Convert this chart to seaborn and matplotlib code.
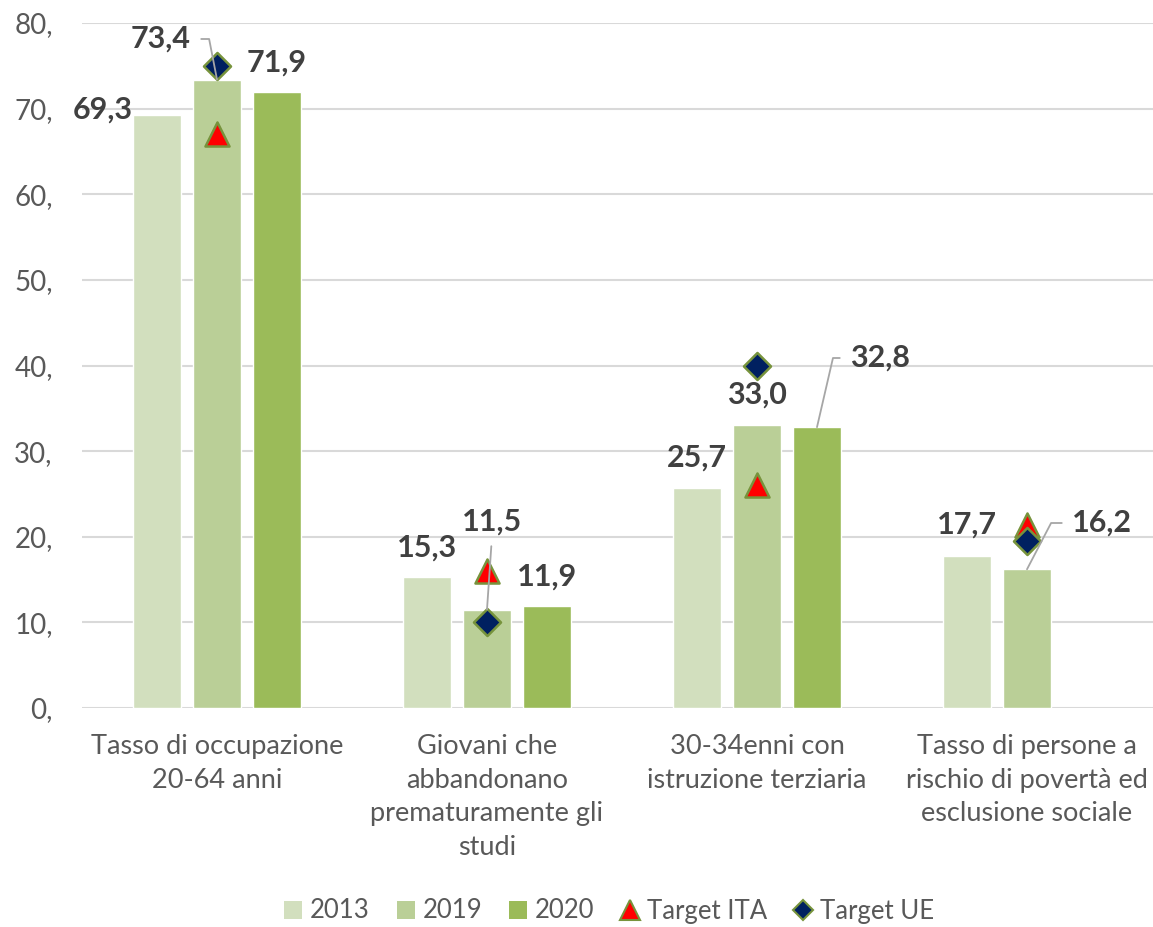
import numpy as np
import pandas as pd
import seaborn as sns
import matplotlib
matplotlib.use("Agg")
import matplotlib.pyplot as plt
from matplotlib.patches import Patch
from matplotlib.lines import Line2D

# ---------------- data ----------------
categories = [
    "Tasso di occupazione\n20-64 anni",
    "Giovani che\nabbandonano\nprematuramente gli\nstudi",
    "30-34enni con\nistruzione terziaria",
    "Tasso di persone a\nrischio di povertà ed\nesclusione sociale",
]
years = ["2013", "2019", "2020"]
v2013 = [69.3, 15.3, 25.7, 17.7]
v2019 = [73.4, 11.5, 33.0, 16.2]
v2020 = [71.9, 11.9, 32.8, np.nan]
target_ita = [67.0, 16.0, 26.0, 21.4]
target_ue = [75.0, 10.0, 40.0, 19.5]
ytick_values = [0, 10, 20, 30, 40, 50, 60, 70, 80]
ytick_labels = ["0,", "10,", "20,", "30,", "40,", "50,", "60,", "70,", "80,"]
legend_labels = ["2013", "2019", "2020", "Target ITA", "Target UE"]

# ---------------- style ----------------
sns.set_theme(style="white")
plt.rcParams["font.family"] = ["Lato", "DejaVu Sans"]

bar_colors = ["#d2dfbe", "#bacf97", "#9bbb59"]
ita_color = "#ff0000"
ue_color = "#002060"
edge_green = "#77933c"
axis_text = "#595959"
label_text = "#404040"
leader_color = "#a6a6a6"

W, H = 1153, 927
fig = plt.figure(figsize=(W / 100, H / 100), dpi=100)
ax = fig.add_axes([82 / W, 1 - 708 / H, (W - 82) / W, (708 - 23) / H])

rows = []
for yr, vals in zip(years, [v2013, v2019, v2020]):
    for c, v in zip(categories, vals):
        rows.append({"cat": c, "year": yr, "value": v})
df = pd.DataFrame(rows).dropna()

slot = 2 / 9  # dodge step
sns.barplot(
    data=df, x="cat", y="value", hue="year", order=categories, hue_order=years,
    palette=bar_colors, saturation=1, width=3 * slot, gap=0.2,
    errorbar=None, legend=False, ax=ax, zorder=2,
)

xpos = np.arange(len(categories))
ax.scatter(xpos, target_ita, marker="^", s=300, c=ita_color,
           edgecolors=edge_green, linewidths=1.8, zorder=4)
ax.scatter(xpos, target_ue, marker="D", s=190, c=ue_color,
           edgecolors=edge_green, linewidths=1.8, zorder=5)

# axes
ax.set_xlim(-0.5, (W - 217) / 270)
ax.set_ylim(0, 80)
ax.set_yticks(ytick_values)
ax.set_yticklabels(ytick_labels)
ax.set_xlabel("")
ax.set_ylabel("")
for s in ax.spines.values():
    s.set_visible(False)
ax.yaxis.grid(True, color="#d9d9d9", lw=1.5)
ax.set_axisbelow(True)
ax.tick_params(axis="y", length=0, pad=21, labelsize=20, labelcolor=axis_text)
ax.tick_params(axis="x", length=0, pad=19, labelsize=19.5, labelcolor=axis_text)
for t in ax.get_xticklabels():
    t.set_linespacing(1.42)

# ---------------- data labels ----------------
def fmt(v):
    return f"{v:.1f}".replace(".", ",")

def px2data(px, py):
    return (px - 217) / 270, (708 - py) / 8.5625

series = {"2013": v2013, "2019": v2019, "2020": v2020}
offsets = {"2013": -slot, "2019": 0.0, "2020": slot}
# label layout: (series, category) -> (pixel centre, leader style)
label_layout = {
    ("2013", 0): ((103, 110), None),
    ("2019", 0): ((161, 39), ((1, 0.5), 0, 101)),
    ("2020", 0): ((277, 63), None),
    ("2013", 1): ((427, 548), None),
    ("2019", 1): ((492, 522), ((0.5, 0), None, None)),
    ("2020", 1): ((547, 577), None),
    ("2013", 2): ((697, 458), None),
    ("2019", 2): ((757, 395), None),
    ("2020", 2): ((880, 358), ((0, 0.5), 0, 77)),
    ("2013", 3): ((967, 525), None),
    ("2019", 3): ((1102, 523), ((0, 0.5), 0, 62.5)),
}
for (yr, ci), ((px, py), leader) in label_layout.items():
    v = series[yr][ci]
    tx, ty = px2data(px, py)
    kw = dict(ha="center", va="center", fontsize=22, fontweight="bold",
              color=label_text, zorder=6)
    if leader is None:
        ax.text(tx, ty, fmt(v), **kw)
    else:
        relpos, aA, aB = leader
        cs = "arc3" if aA is None else f"angle,angleA={aA},angleB={aB},rad=0"
        ax.annotate(fmt(v), xy=(ci + offsets[yr], v), xytext=(tx, ty),
                    textcoords="data",
                    arrowprops=dict(arrowstyle="-", color=leader_color, lw=1.3,
                                    shrinkA=5, shrinkB=0, relpos=relpos,
                                    connectionstyle=cs),
                    **kw)

# ---------------- legend ----------------
handles = [Patch(facecolor=c, edgecolor="none") for c in bar_colors]
handles.append(Line2D([], [], ls="none", marker="^", markersize=14,
                      markerfacecolor=ita_color, markeredgecolor=edge_green,
                      markeredgewidth=1.5))
handles.append(Line2D([], [], ls="none", marker="D", markersize=10.5,
                      markerfacecolor=ue_color, markeredgecolor=edge_green,
                      markeredgewidth=1.5))
fig.legend(handles, legend_labels, loc="center",
           bbox_to_anchor=(609 / W, 1 - 911 / H), ncol=5, frameon=False,
           fontsize=18.5, labelcolor=axis_text, handlelength=0.7,
           handleheight=0.7, handletextpad=0.3, columnspacing=1.05)

fig.savefig("out.png", dpi=100)
